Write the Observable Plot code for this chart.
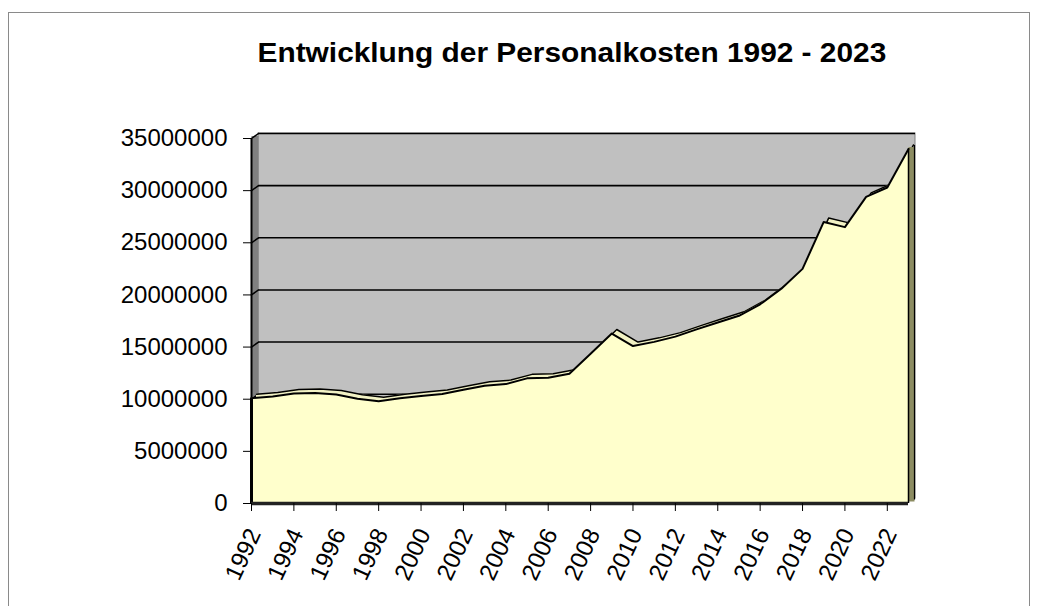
<!DOCTYPE html>
<html>
<head>
<meta charset="utf-8">
<script src="https://cdn.jsdelivr.net/npm/d3@7"></script>
<script src="https://cdn.jsdelivr.net/npm/@observablehq/plot@0.6"></script>
<style>
  body { margin: 0; background: #fff; font-family: "Liberation Sans", Arial, sans-serif; }
  #wrap { position: relative; width: 1038px; height: 606px; overflow: hidden; }
  #frame { position: absolute; left: 8px; top: 12px; width: 1022px; height: 640px; border: 1px solid #8a8a8a; box-sizing: border-box; }
  #title { position: absolute; left: 0; width: 1143px; top: 39px; text-align: center; font-weight: bold; font-size: 28px; line-height: 28px; color: #000; }
  #title span { display: inline-block; transform: scaleX(1.066); transform-origin: center; }
  #chart { position: absolute; left: 0; top: 0; }
</style>
</head>
<body>
<div id="wrap">
  <div id="frame"></div>
  <div id="chart"></div>
  <div id="title"><span>Entwicklung der Personalkosten 1992 - 2023</span></div>
</div>
<script>
const years = d3.range(1992, 2024);
const costs = [
  10100000, 10250000, 10550000, 10600000, 10450000, 10050000, 9800000, 10100000,
  10300000, 10500000, 10900000, 11300000, 11450000, 12000000, 12050000, 12450000,
  14350000, 16300000, 15100000, 15500000, 16000000, 16700000, 17350000, 18000000,
  19100000, 20600000, 22500000, 27000000, 26500000, 29400000, 30300000, 34000000
];
const yTicks = [0, 5000000, 10000000, 15000000, 20000000, 25000000, 30000000, 35000000];
const xTicks = years.filter((y) => y % 2 === 0);

const data = years.map((year, i) => ({ year, value: costs[i] }));
const first = years[0], last = years[years.length - 1];
const wall = [{ x1: first, x2: last, y1: yTicks[0], y2: yTicks[yTicks.length - 1] }];
const lastPoint = [data[data.length - 1]];

const depthX = 7, depthY = -5;   // back-wall 3D offset
const sDx = 5, sDy = -4;         // series depth

const chart = Plot.plot({
  width: 1038,
  height: 606,
  marginLeft: 251,
  marginRight: 130,
  marginTop: 138,
  marginBottom: 103,
  x: { type: "linear", domain: [first, last], label: null },
  y: { domain: [0, 35000000], label: null },
  style: { fontFamily: "'Liberation Sans', Arial, sans-serif", fontSize: "24px", color: "#000", background: "transparent", overflow: "visible" },
  marks: [
    Plot.rect(wall, { x1: "x1", x2: "x2", y1: "y1", y2: "y2", dx: depthX, dy: depthY, fill: "#c0c0c0", stroke: "#808080", strokeWidth: 1 }),
    Plot.ruleY(yTicks.slice(1), { x1: first, x2: last, dx: depthX, dy: depthY, stroke: "#000", strokeWidth: 1.6 }),
    Plot.link(wall, { x1: "x1", x2: "x1", y1: "y1", y2: "y2", dx: depthX / 2, dy: depthY / 2, stroke: "#808080", strokeWidth: depthX }),
    Plot.link(wall, { x1: "x1", x2: "x1", y1: "y1", y2: "y2", stroke: "#000", strokeWidth: 2 }),
    Plot.vector(yTicks.slice(1), { x: first, y: (d) => d, length: Math.hypot(depthX, depthY), rotate: Math.atan2(depthX, -depthY) * 180 / Math.PI, anchor: "start", r: 0, stroke: "#000", strokeWidth: 1.5 }),
    Plot.areaY(data, { x: "year", y: "value", dx: sDx, dy: sDy, fill: "#f2f2c4" }),
    Plot.lineY(data, { x: "year", y: "value", dx: sDx, dy: sDy, stroke: "#000", strokeWidth: 1.5 }),
    Plot.link(lastPoint, { x1: "year", x2: "year", y1: 0, y2: "value", dx: sDx / 2 + 0.5, dy: sDy / 2, stroke: "#8c8c62", strokeWidth: sDx + 1 }),
    Plot.link(lastPoint, { x1: "year", x2: "year", y1: 0, y2: "value", dx: sDx + 1, dy: sDy, stroke: "#000", strokeWidth: 1.2 }),
    Plot.areaY(data, { x: "year", y: "value", fill: "#ffffcc" }),
    Plot.lineY(data, { x: "year", y: "value", stroke: "#000", strokeWidth: 2 }),
    Plot.ruleX([first], { y1: 0, y2: costs[0], stroke: "#000", strokeWidth: 3 }),
    Plot.ruleX([last], { y1: 0, y2: costs[costs.length - 1], stroke: "#000", strokeWidth: 1.5 }),
    Plot.ruleY([0], { x1: first, x2: last, stroke: "#222", strokeWidth: 3.5 }),
    Plot.axisY(yTicks, { tickSize: 8, tickPadding: 16, tickFormat: (d) => String(d), stroke: "#000", fill: "#000", label: null }),
    Plot.axisX(xTicks, { tickSize: 8, tickFormat: () => "", stroke: "#000", label: null }),
    Plot.text(xTicks, { x: (d) => d, frameAnchor: "bottom", text: (d) => String(d), rotate: -65, textAnchor: "end", dx: 10, dy: 30, fill: "#000", fontSize: 24 })
  ]
});
document.getElementById("chart").appendChild(chart);
</script>
</body>
</html>
